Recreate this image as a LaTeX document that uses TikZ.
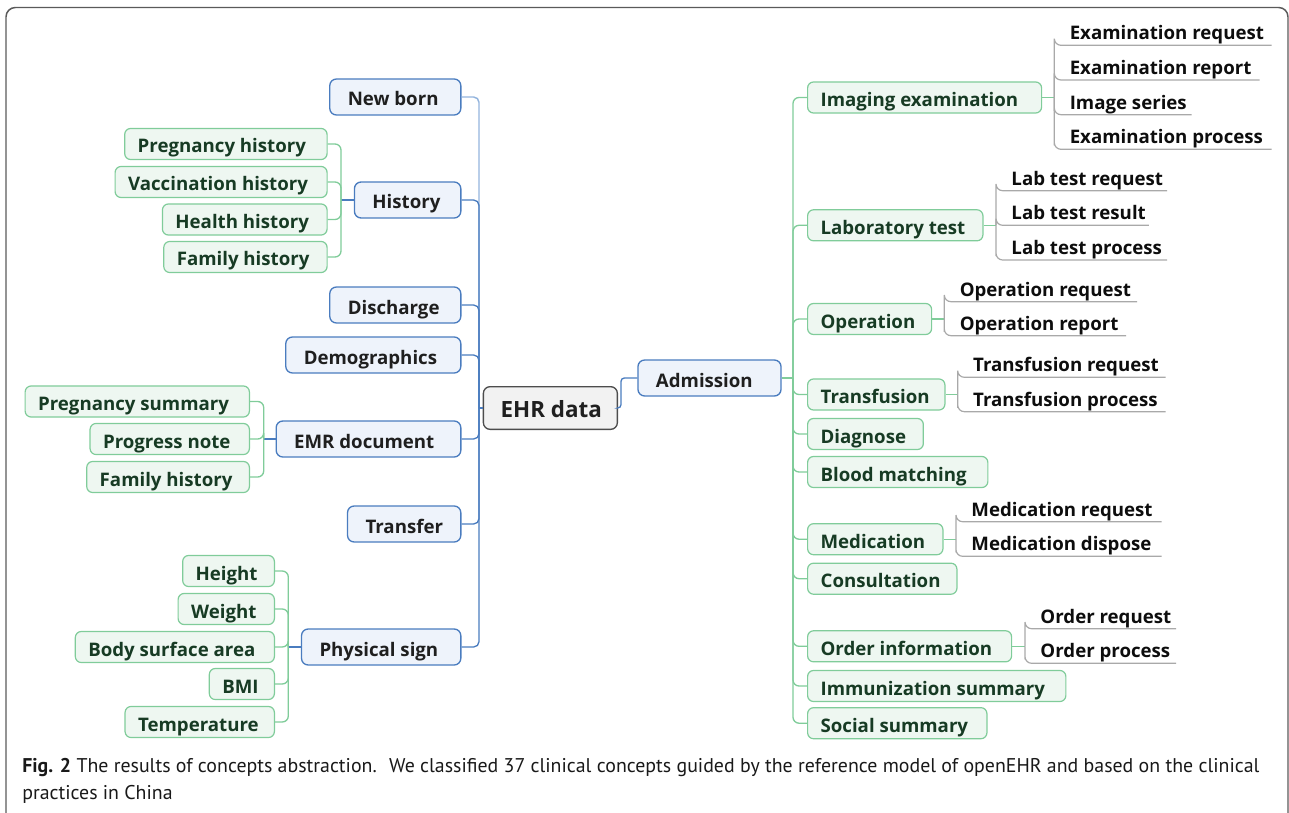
\documentclass[tikz,border=0pt]{standalone}
\usepackage{fontspec}
\setmainfont{Open Sans}
\newfontfamily\capfont{PT Sans}
% fixed-width box contents with a left padding
\newcommand{\gtxt}[2]{\makebox[#1][l]{\hspace*{9.75pt}#2}}
\newcommand{\btxt}[2]{\makebox[#1][l]{\hspace*{13.5pt}#2}}
\newcommand{\ltxt}[2]{\makebox[#1][l]{\hspace*{11.4pt}#2}}
\definecolor{framec}{HTML}{5A5A5A}
\definecolor{bluedraw}{HTML}{4A7CBF}
\definecolor{bluefill}{HTML}{EEF3FB}
\definecolor{bluelight}{HTML}{93B4DD}
\definecolor{greendraw}{HTML}{80CC9A}
\definecolor{greenfill}{HTML}{EEF7F1}
\definecolor{greentext}{HTML}{173B24}
\definecolor{rootdraw}{HTML}{4D4D4D}
\definecolor{rootfill}{HTML}{F2F2F2}
\definecolor{leafline}{HTML}{A9A9A9}
\begin{document}
\begin{tikzpicture}[x=0.75pt,y=-0.75pt,
  every node/.style={inner xsep=0pt, inner ysep=0pt, font=\bfseries\fontsize{14}{17}\selectfont,
    text height=14pt, text depth=0.5pt},
  rootbox/.style={draw=rootdraw, fill=rootfill, line width=1pt, rounded corners=5pt,
    minimum height=32pt, text=black!88, font=\bfseries\fontsize{16.8}{20}\selectfont,
    text height=15pt, text depth=1pt},
  bluebox/.style={draw=bluedraw, fill=bluefill, line width=1pt, rounded corners=5pt,
    minimum height=27pt, text=black!88},
  greenbox/.style={draw=greendraw, fill=greenfill, line width=0.9pt, rounded corners=4.5pt,
    minimum height=23.3pt, text=greentext},
  leaf/.style={anchor=south west, text=black!95, text height=13pt, text depth=4pt},
  bline/.style={draw=bluedraw, line width=1pt, rounded corners=4pt},
  blight/.style={draw=bluelight, line width=1.1pt, rounded corners=4pt},
  gline/.style={draw=greendraw, line width=1pt, rounded corners=4.5pt},
  lline/.style={draw=leafline, line width=0.9pt, rounded corners=5pt},
  caption/.style={anchor=base west, font=\capfont\fontsize{14.9}{18}\selectfont, text=black!90,
    text height=, text depth=}
]
\useasboundingbox (0,0) rectangle (1289,813);
\draw[framec, line width=1.1pt, rounded corners=7pt] (6,850) -- (6,7.5) -- (1288,7.5) -- (1288,850);

% root and first level
\node[rootbox, anchor=west] (ehr) at (482.7,408) {\makebox[100.5pt][l]{\hspace*{13pt}EHR data}};
\node[bluebox, anchor=west] (adm) at (637.3,378) {\btxt{107.3pt}{Admission}};

\node[bluebox, anchor=east] (newborn) at (461.5,97)  {\btxt{98.3pt}{New born}};
\node[bluebox, anchor=east] (hist)    at (461.5,200) {\btxt{79.8pt}{History}};
\node[bluebox, anchor=east] (disch)   at (461.5,305) {\btxt{98.3pt}{Discharge}};
\node[bluebox, anchor=east] (demo)    at (461.5,355) {\btxt{131.3pt}{Demographics}};
\node[bluebox, anchor=east] (emr)     at (461.5,439) {\btxt{138.5pt}{EMR document}};
\node[bluebox, anchor=east] (transf)  at (461.5,524) {\btxt{85pt}{Transfer}};
\node[bluebox, anchor=east] (phys)    at (461.5,647) {\btxt{119.5pt}{Physical sign}};

% history group
\node[greenbox, anchor=east] (h1) at (327.7,144) {\gtxt{151.8pt}{Pregnancy history}};
\node[greenbox, anchor=east] (h2) at (327.7,182) {\gtxt{159pt}{Vaccination history}};
\node[greenbox, anchor=east] (h3) at (327.7,219.5) {\gtxt{123.5pt}{Health history}};
\node[greenbox, anchor=east] (h4) at (327.7,257) {\gtxt{122.5pt}{Family history}};

% EMR document group
\node[greenbox, anchor=east] (e1) at (250,401.5) {\gtxt{168.2pt}{Pregnancy summary}};
\node[greenbox, anchor=east] (e2) at (250,439) {\gtxt{119.5pt}{Progress note}};
\node[greenbox, anchor=east] (e3) at (250,477) {\gtxt{122pt}{Family history}};

% physical sign group
\node[greenbox, anchor=east] (p1) at (275,571) {\gtxt{68.8pt}{Height}};
\node[greenbox, anchor=east] (p2) at (275,609) {\gtxt{72.2pt}{Weight}};
\node[greenbox, anchor=east] (p3) at (275,647) {\gtxt{149.3pt}{Body surface area}};
\node[greenbox, anchor=east] (p4) at (275,684) {\gtxt{48.8pt}{BMI}};
\node[greenbox, anchor=east] (p5) at (275,722) {\gtxt{112pt}{Temperature}};

% admission group
\node[greenbox, anchor=west] (a1)  at (807,97.5)  {\gtxt{175.5pt}{Imaging examination}};
\node[greenbox, anchor=west] (a2)  at (807,225.3) {\gtxt{131.5pt}{Laboratory test}};
\node[greenbox, anchor=west] (a3)  at (807,319)   {\gtxt{93pt}{Operation}};
\node[greenbox, anchor=west] (a4)  at (807,394.5) {\gtxt{103pt}{Transfusion}};
\node[greenbox, anchor=west] (a5)  at (807,434)   {\gtxt{86.8pt}{Diagnose}};
\node[greenbox, anchor=west] (a6)  at (807,472)   {\gtxt{135.2pt}{Blood matching}};
\node[greenbox, anchor=west] (a7)  at (807,539.2) {\gtxt{101.5pt}{Medication}};
\node[greenbox, anchor=west] (a8)  at (807,578.7) {\gtxt{112pt}{Consultation}};
\node[greenbox, anchor=west] (a9)  at (807,646.3) {\gtxt{153pt}{Order information}};
\node[greenbox, anchor=west] (a10) at (807,686)   {\gtxt{193.7pt}{Immunization summary}};
\node[greenbox, anchor=west] (a11) at (807,723.2) {\gtxt{134.5pt}{Social summary}};

% leaves
\node[leaf] (l11) at (1054.3,45.3)  {\ltxt{162.5pt}{Examination request}};
\node[leaf] (l12) at (1054.3,80)    {\ltxt{153.5pt}{Examination report}};
\node[leaf] (l13) at (1054.3,114.7) {\ltxt{102.5pt}{Image series}};
\node[leaf] (l14) at (1054.3,149.3) {\ltxt{162.5pt}{Examination process}};
\node[leaf] (l21) at (996,190.7) {\ltxt{128pt}{Lab test request}};
\node[leaf] (l22) at (996,225.3) {\ltxt{114.2pt}{Lab test result}};
\node[leaf] (l23) at (996,260)   {\ltxt{128pt}{Lab test process}};
\node[leaf] (l31) at (944.3,301.7) {\ltxt{144.3pt}{Operation request}};
\node[leaf] (l32) at (944.3,335.7) {\ltxt{136pt}{Operation report}};
\node[leaf] (l41) at (957.7,377.3) {\ltxt{155.5pt}{Transfusion request}};
\node[leaf] (l42) at (957.7,411.7) {\ltxt{155.5pt}{Transfusion process}};
\node[leaf] (l71) at (956,521.7) {\ltxt{153.8pt}{Medication request}};
\node[leaf] (l72) at (956,556.3) {\ltxt{153.8pt}{Medication dispose}};
\node[leaf] (l91) at (1025,628.7) {\ltxt{113pt}{Order request}};
\node[leaf] (l92) at (1025,663.3) {\ltxt{113pt}{Order process}};

% junction points
\coordinate (bj) at (479,408);
\coordinate (ej) at (621,408);
\coordinate (gj) at (793,378);
\coordinate (hj) at (341,200);
\coordinate (mj) at (263.7,439);
\coordinate (pj) at (288.3,647);
\coordinate (s1) at (1054.3,97.5);
\coordinate (s2) at (996,225.3);
\coordinate (s3) at (944.3,319);
\coordinate (s4) at (957.7,394.5);
\coordinate (s7) at (956,539.2);
\coordinate (s9) at (1025,646.3);

% trunk from the root to the left
\draw[blight] (newborn.east) -| (bj);
\foreach \n in {hist,disch,demo,emr,transf,phys}
  \draw[bline] (\n.east) -| (bj);
\draw[bline] (ehr.west) -- (bj);

% root to admission
\draw[bline, rounded corners=2.5pt] (ehr.east) -- (ej) |- (adm.west);
\draw[gline] (adm.east) -- (gj);
\foreach \n in {a1,a2,a3,a4,a5,a6,a7,a8,a9,a10,a11}
  \draw[gline] (gj) |- (\n.west);

% left subgroups
\draw[bline] (hist.west) -- (hj);
\foreach \n in {h1,h2,h3,h4} \draw[gline] (\n.east) -| (hj);
\draw[bline] (emr.west) -- (mj);
\foreach \n in {e1,e2,e3} \draw[gline] (\n.east) -| (mj);
\draw[bline] (phys.west) -- (pj);
\foreach \n in {p1,p2,p3,p4,p5} \draw[gline] (\n.east) -| (pj);

% leaf brackets
\draw[gline] (a1.east) -- (s1);
\foreach \n in {l11,l12,l13,l14} \draw[lline] (s1) |- (\n.south west) -- (\n.south east);
\draw[gline] (a2.east) -- (s2);
\foreach \n in {l21,l22,l23} \draw[lline] (s2) |- (\n.south west) -- (\n.south east);
\draw[gline] (a3.east) -- (s3);
\foreach \n in {l31,l32} \draw[lline] (s3) |- (\n.south west) -- (\n.south east);
\draw[gline] (a4.east) -- (s4);
\foreach \n in {l41,l42} \draw[lline] (s4) |- (\n.south west) -- (\n.south east);
\draw[gline] (a7.east) -- (s7);
\foreach \n in {l71,l72} \draw[lline] (s7) |- (\n.south west) -- (\n.south east);
\draw[gline] (a9.east) -- (s9);
\foreach \n in {l91,l92} \draw[lline] (s9) |- (\n.south west) -- (\n.south east);

% caption
\node[caption] (cap1) at (22,772.5) {\textbf{Fig. 2} The results of concepts abstraction.~ We classified 37 clinical concepts guided by the reference model of openEHR and based on the clinical};
\node[caption] (cap2) at (22,799.5) {practices in China};
\end{tikzpicture}
\end{document}
